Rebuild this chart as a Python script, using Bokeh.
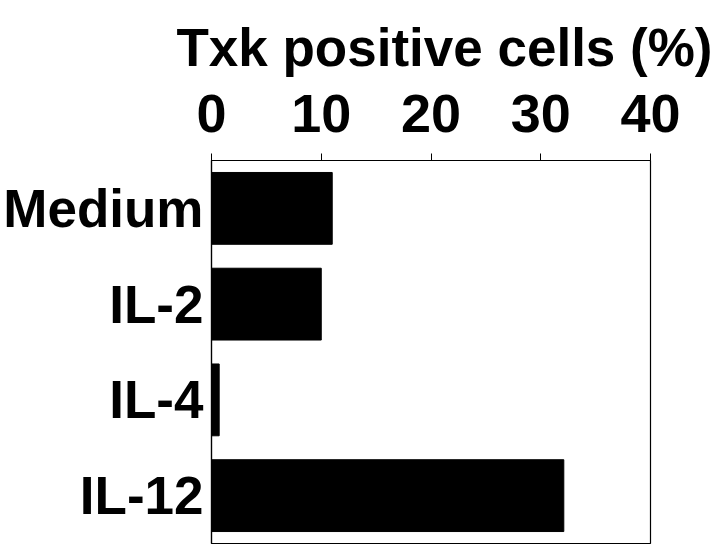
from bokeh.plotting import figure
from bokeh.models import FactorRange, Range1d, FixedTicker, Title
from bokeh.embed import file_html
from bokeh.resources import INLINE

categories = ["Medium", "IL-2", "IL-4", "IL-12"]
values = [11.0, 10.0, 0.7, 32.1]
x_ticks = [0, 10, 20, 30, 40]
title_text = "Txk positive cells (%)"

FONT = "Liberation Sans"

p = figure(
    width=720, height=546,
    y_range=FactorRange(*list(reversed(categories))),
    x_range=Range1d(0, 40),
    x_axis_location="above",
    output_backend="svg", toolbar_location=None,
    min_border_left=211, min_border_right=70,
    min_border_top=160, min_border_bottom=3,
)

p.hbar(y=categories, right=values, left=0, height=0.75,
       fill_color="black", line_color="black")

p.grid.visible = False
p.outline_line_color = "black"
p.outline_line_width = 1.2

xa = p.xaxis[0]
xa.ticker = FixedTicker(ticks=x_ticks)
xa.major_label_text_font = FONT
xa.major_label_text_font_style = "bold"
xa.major_label_text_font_size = "54px"
xa.major_label_text_color = "black"
xa.major_label_standoff = 22
xa.major_tick_out = 7
xa.major_tick_in = 0
xa.minor_tick_line_color = None
xa.axis_line_color = "black"
xa.axis_line_width = 1.2
xa.major_tick_line_color = "black"

t = Title(text=title_text, align="right", offset=-62,
          text_font=FONT, text_font_style="bold", text_font_size="53px",
          text_color="black", standoff=30)
p.add_layout(t, "above")

ya = p.yaxis[0]
ya.major_label_text_font = FONT
ya.major_label_text_font_style = "bold"
ya.major_label_text_font_size = "53px"
ya.major_label_text_color = "black"
ya.major_label_standoff = 2
ya.major_tick_line_color = None
ya.minor_tick_line_color = None
ya.axis_line_color = "black"
ya.axis_line_width = 1.2

open("out.html", "w").write(file_html(p, INLINE))
